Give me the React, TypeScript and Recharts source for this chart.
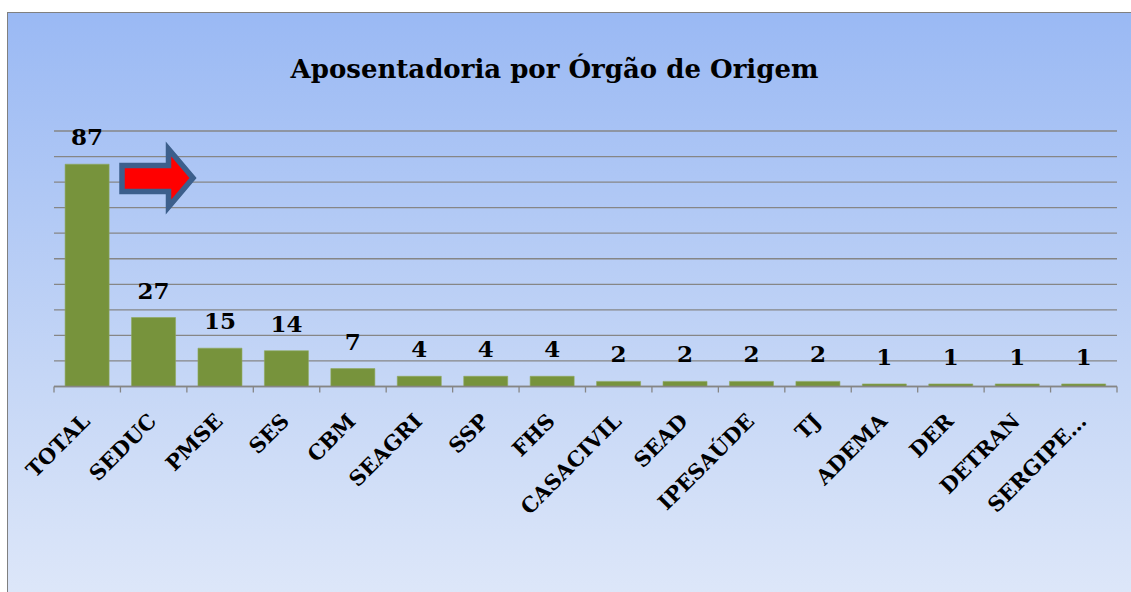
import React from 'react';
import { BarChart, Bar, XAxis, YAxis, CartesianGrid, LabelList } from 'recharts';

// órgãos de origem e número de aposentadorias
const categories = ['TOTAL', 'SEDUC', 'PMSE', 'SES', 'CBM', 'SEAGRI', 'SSP', 'FHS', 'CASACIVIL', 'SEAD', 'IPESAÚDE', 'TJ', 'ADEMA', 'DER', 'DETRAN', 'SERGIPE…'];
const values = [87, 27, 15, 14, 7, 4, 4, 4, 2, 2, 2, 2, 1, 1, 1, 1];
const yTicks = [0, 10, 20, 30, 40, 50, 60, 70, 80, 90, 100];

const FONT = '"DejaVu Serif", serif';
const GRID = '#868686';

const data = categories.map((name, i) => ({ name, value: values[i] }));

// rótulo inclinado + marcas nos limites das categorias
const CatTick = (props: any) => {
  const { x, y, payload, index, visibleTicksCount } = props;
  const half = payload && payload.offset ? payload.offset : 33.2;
  const tx = x + 4;
  const ty = y + 36;
  return (
    <g>
      <line x1={x - half} y1={y} x2={x - half} y2={y + 6} stroke={GRID} strokeWidth={1.3} />
      {index === visibleTicksCount - 1 && (
        <line x1={x + half} y1={y} x2={x + half} y2={y + 6} stroke={GRID} strokeWidth={1.3} />
      )}
      <text
        x={tx}
        y={ty}
        textAnchor="end"
        transform={`rotate(-45 ${tx} ${ty})`}
        fontFamily={FONT}
        fontWeight="bold"
        fontSize={21}
        fill="#000"
      >
        {payload.value}
      </text>
    </g>
  );
};

export default function App() {
  return (
    <div
      style={{
        position: 'fixed',
        left: 7,
        top: 12,
        width: 1130,
        height: 600,
        borderLeft: '1px solid #808080',
        borderTop: '1px solid #808080',
        background: 'linear-gradient(180deg, #9ab9f4 0%, #c6d7f6 62%, #dfe8f9 100%)',
      }}
    >
      <BarChart
        width={1123}
        height={579}
        data={data}
        margin={{ top: 118, right: 14, left: 46, bottom: 105.5 }}
        barCategoryGap="16.7%"
      >
        <CartesianGrid horizontal vertical={false} stroke={GRID} strokeWidth={1.3} />
        <YAxis hide domain={[0, 100]} ticks={yTicks} />
        <XAxis
          dataKey="name"
          interval={0}
          height={100}
          tickLine={false}
          tickSize={0}
          tickMargin={0}
          axisLine={{ stroke: GRID, strokeWidth: 1.3 }}
          tick={<CatTick />}
        />
        <Bar dataKey="value" fill="#77933c" stroke="#8fa85a" strokeWidth={0.6} isAnimationActive={false}>
          <LabelList
            dataKey="value"
            position="top"
            offset={19}
            style={{ fontFamily: FONT, fontWeight: 'bold', fontSize: 23, fill: '#000' }}
          />
        </Bar>
      </BarChart>
      <svg
        width={1123}
        height={579}
        style={{ position: 'absolute', left: 0, top: 0, pointerEvents: 'none' }}
      >
        <text x={546.5} y={65} textAnchor="middle" fontFamily={FONT} fontWeight="bold" fontSize={26} fill="#000">
          Aposentadoria por Órgão de Origem
        </text>
        <path
          d="M114 152.5 L160.5 152.5 L160.5 136 L185 165 L160.5 194 L160.5 178.5 L114 178.5 Z"
          fill="#ff0000"
          stroke="#3c5f8c"
          strokeWidth={5.5}
          strokeLinejoin="miter"
        />
      </svg>
    </div>
  );
}
